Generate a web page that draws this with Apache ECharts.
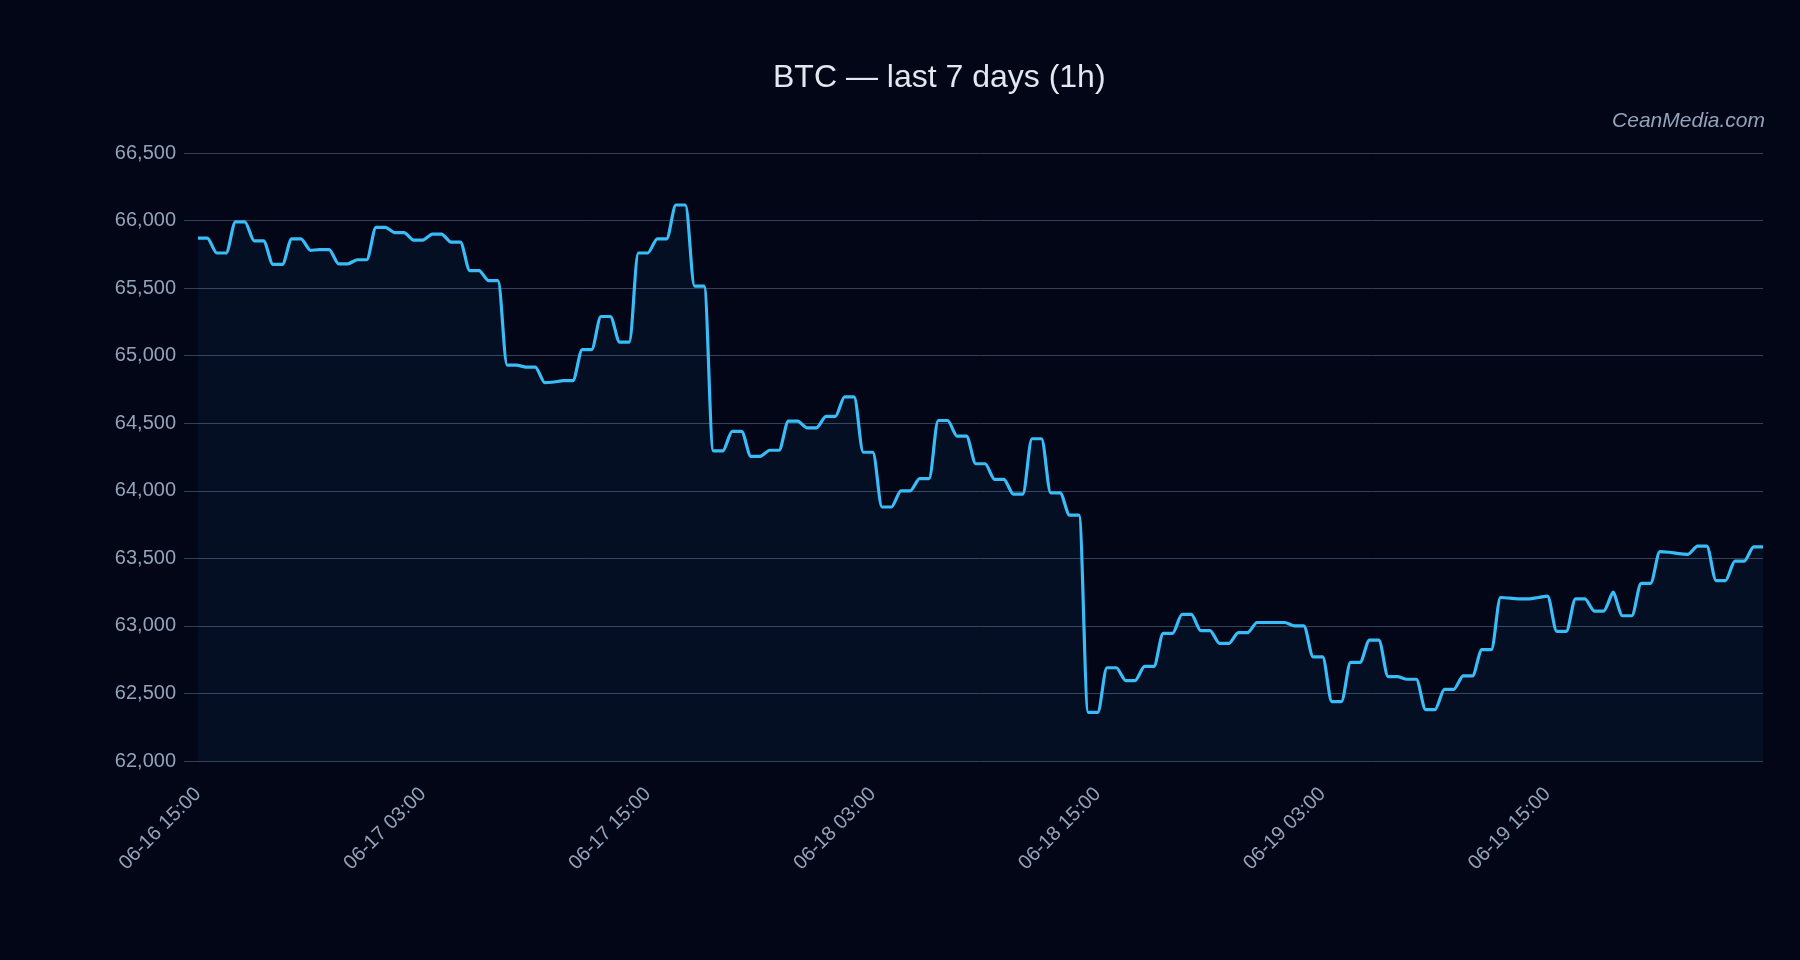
<!DOCTYPE html>
<html>
<head>
<meta charset="utf-8">
<title>BTC last 7 days</title>
<script src="https://cdn.jsdelivr.net/npm/echarts@6/dist/echarts.min.js"></script>
<style>
    html, body { margin: 0; padding: 0; background: #020617; }
    #chart { width: 1800px; height: 960px; }
</style>
</head>
<body>
<div id="chart"></div>
<script>
// 起始时间：06-16 15:00，每个点间隔30分钟
var startMonth = 6, startDay = 16, startHour = 15;
var stepMinutes = 30;
var labelEvery = 24; // 每12小时一个标签

// BTC 价格（从图上读出来的，每行12个点）
var prices = [
    65870, 65870, 65760, 65760, 65990, 65990, 65850, 65850, 65675, 65675, 65865, 65865,
    65780, 65785, 65785, 65680, 65680, 65710, 65710, 65950, 65950, 65910, 65910, 65855,
    65855, 65900, 65900, 65840, 65840, 65630, 65630, 65555, 65555, 64930, 64930, 64915,
    64915, 64800, 64805, 64815, 64815, 65045, 65045, 65290, 65290, 65100, 65100, 65760,
    65760, 65865, 65865, 66115, 66115, 65515, 65515, 64295, 64295, 64440, 64440, 64255,
    64255, 64300, 64300, 64515, 64515, 64465, 64465, 64550, 64550, 64695, 64695, 64285,
    64285, 63880, 63880, 64000, 64000, 64090, 64090, 64520, 64520, 64405, 64405, 64200,
    64200, 64085, 64085, 63975, 63975, 64385, 64385, 63985, 63985, 63820, 63820, 62360,
    62360, 62690, 62690, 62595, 62595, 62700, 62700, 62945, 62945, 63085, 63085, 62965,
    62965, 62870, 62870, 62950, 62950, 63025, 63025, 63025, 63025, 63000, 63000, 62770,
    62770, 62440, 62440, 62730, 62730, 62895, 62895, 62625, 62625, 62605, 62605, 62380,
    62380, 62530, 62530, 62630, 62630, 62825, 62825, 63210, 63205, 63200, 63200, 63210,
    63220, 62960, 62960, 63200, 63200, 63110, 63110, 63250, 63075, 63075, 63315, 63315,
    63550, 63545, 63535, 63530, 63590, 63590, 63335, 63335, 63480, 63480, 63585, 63585
];

// y轴范围
var yMin = 62000, yMax = 66500, yStep = 500;

var titleText = "BTC \u2014 last 7 days (1h)";
var watermark = "CeanMedia.com";

function pad(n){
    return n < 10 ? "0" + n : "" + n;
}

// 生成x轴的时间标签
function buildCategories(n){
    var out = [];
    var t0 = Date.UTC(2024, startMonth - 1, startDay, startHour, 0);
    for (var i = 0; i < n; i++){
        var d = new Date(t0 + i * stepMinutes * 60000);
        out.push(pad(d.getUTCMonth() + 1) + "-" + pad(d.getUTCDate()) + " " + pad(d.getUTCHours()) + ":" + pad(d.getUTCMinutes()));
    }
    return out;
}

var categories = buildCategories(prices.length);

var fontName = "Liberation Sans";
var chart = echarts.init(document.getElementById("chart"));
var option = {
    backgroundColor: "#020617",
    animation: false,
    textStyle: { fontFamily: fontName },
    title: {
        text: titleText,
        left: 768,
        top: 57,
        textStyle: { color: "#e2e8f0", fontSize: 32, fontWeight: "normal", fontFamily: fontName }
    },
    graphic: [{
        type: "text",
        right: 35,
        top: 111,
        style: {
            text: watermark,
            fill: "#94a3b8",
            font: "italic 21px '" + fontName + "'"
        }
    }],
    grid: { left: 198, right: 37, top: 153, bottom: 199 },
    xAxis: {
        type: "category",
        data: categories,
        boundaryGap: false,
        axisLine: { show: false },
        axisTick: { show: false },
        axisLabel: {
            interval: labelEvery - 1,
            rotate: 45,
            margin: 30,
            color: "#94a3b8",
            fontSize: 20
        }
    },
    yAxis: {
        type: "value",
        min: yMin,
        max: yMax,
        interval: yStep,
        axisLine: { show: false },
        axisTick: { show: true, length: 14, lineStyle: { color: "#334155" } },
        axisLabel: {
            margin: 22,
            color: "#94a3b8",
            fontSize: 20,
            formatter: function (v) { return v.toLocaleString("en-US"); }
        },
        splitLine: { lineStyle: { color: "#334155" } }
    },
    series: [{
        type: "line",
        data: prices,
        smooth: 0.2,
        showSymbol: false,
        lineStyle: { color: "#38bdf8", width: 3.2 },
        areaStyle: { color: "rgba(56,189,248,0.08)" }
    }]
};
chart.setOption(option);
</script>
</body>
</html>
